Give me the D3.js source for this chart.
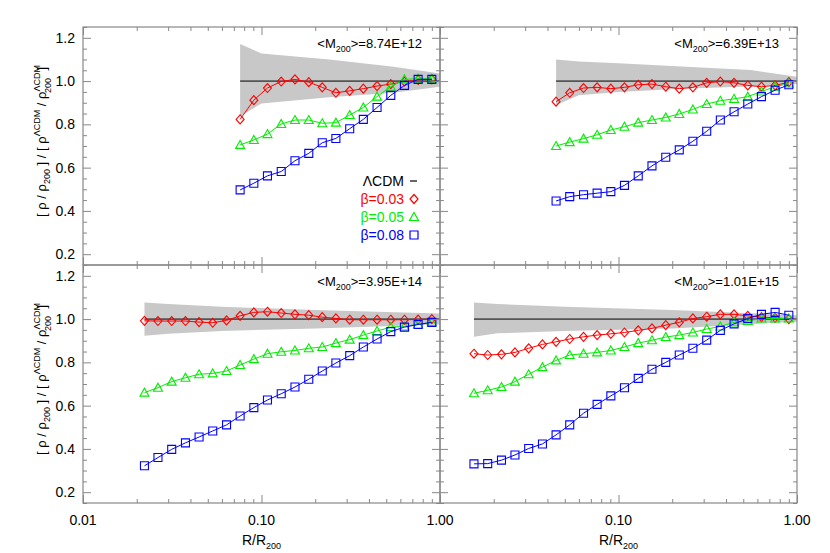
<!DOCTYPE html>
<html lang="en">
<head>
<meta charset="UTF-8">
<title>density ratio</title>
<style>
  body { margin: 0; background: #fff; }
  text { font-family: "Liberation Sans", Arial, sans-serif; }
</style>
</head>
<body>
<svg id="vis"></svg>
<script src="https://d3js.org/d3.v7.min.js"></script>
<script>
// R/R200 grid shared by all panels (each panel uses the last n points)
const radii = [0.0155, 0.0185, 0.0221, 0.0263, 0.0314, 0.0375, 0.0447, 0.0533, 0.0637, 0.0759,
  0.0906, 0.108, 0.129, 0.154, 0.184, 0.219, 0.261, 0.312, 0.372, 0.444, 0.530, 0.632, 0.754, 0.900]

const massLabels = ["8.74E+12", "6.39E+13", "3.95E+14", "1.01E+15"]

const beta03 = [
  [0.823, 0.912, 0.968, 0.998, 1.008, 0.995, 0.971, 0.946, 0.955, 0.965, 0.977, 0.986, 0.998, 1.005, 1.008],
  [0.905, 0.946, 0.968, 0.971, 0.965, 0.971, 0.983, 0.986, 0.974, 0.965, 0.971, 0.992, 0.998, 0.992, 0.980, 0.974, 0.980, 0.995],
  [0.992, 0.991, 0.991, 0.991, 0.986, 0.983, 0.994, 1.015, 1.031, 1.034, 1.028, 1.022, 1.018, 1.009, 1.003, 0.997, 0.997, 0.997, 0.997, 0.997, 0.998, 1.0],
  [0.840, 0.834, 0.837, 0.846, 0.865, 0.883, 0.895, 0.908, 0.918, 0.926, 0.932, 0.938, 0.948, 0.957, 0.972, 0.985, 1.003, 1.011, 1.022, 1.022, 1.015, 1.009, 1.006, 1.0]
]
const beta05 = [
  [0.705, 0.728, 0.755, 0.802, 0.820, 0.820, 0.805, 0.808, 0.843, 0.878, 0.928, 0.974, 1.008, 1.011, 1.011],
  [0.700, 0.718, 0.734, 0.752, 0.774, 0.789, 0.808, 0.820, 0.832, 0.848, 0.869, 0.894, 0.909, 0.918, 0.928, 0.952, 0.974, 0.989],
  [0.660, 0.683, 0.711, 0.729, 0.745, 0.749, 0.760, 0.788, 0.815, 0.840, 0.849, 0.855, 0.865, 0.871, 0.889, 0.905, 0.926, 0.945, 0.963, 0.966, 0.975, 0.985],
  [0.657, 0.671, 0.686, 0.711, 0.745, 0.778, 0.809, 0.834, 0.840, 0.846, 0.855, 0.871, 0.889, 0.902, 0.917, 0.926, 0.938, 0.954, 0.966, 0.985, 0.991, 1.003, 1.003, 1.003]
]
const beta08 = [
  [0.497, 0.528, 0.562, 0.582, 0.632, 0.666, 0.715, 0.735, 0.780, 0.823, 0.878, 0.934, 0.980, 1.008, 1.008],
  [0.446, 0.466, 0.475, 0.482, 0.489, 0.518, 0.562, 0.608, 0.648, 0.682, 0.722, 0.768, 0.820, 0.858, 0.894, 0.928, 0.958, 0.983],
  [0.322, 0.360, 0.398, 0.428, 0.455, 0.483, 0.511, 0.552, 0.591, 0.626, 0.655, 0.686, 0.722, 0.760, 0.797, 0.831, 0.871, 0.908, 0.942, 0.963, 0.975, 0.985],
  [0.331, 0.332, 0.348, 0.372, 0.402, 0.423, 0.465, 0.511, 0.565, 0.606, 0.645, 0.683, 0.726, 0.768, 0.800, 0.834, 0.865, 0.903, 0.948, 0.978, 1.003, 1.022, 1.031, 1.018]
]

// LCDM scatter band: [R, lower, upper]
const bands = [
  [[0.0759, 0.838, 1.171], [0.100, 0.897, 1.128], [0.240, 0.925, 1.100], [0.550, 0.946, 1.066], [1.0, 0.974, 1.035]],
  [[0.0447, 0.889, 1.100], [0.060, 0.935, 1.090], [0.100, 0.950, 1.082], [0.240, 0.966, 1.066], [0.550, 0.975, 1.051], [1.0, 0.986, 1.020]],
  [[0.0221, 0.923, 1.077], [0.030, 0.932, 1.070], [0.060, 0.945, 1.057], [0.200, 0.957, 1.042], [1.0, 0.975, 1.026]],
  [[0.0155, 0.918, 1.077], [0.021, 0.934, 1.070], [0.050, 0.945, 1.057], [0.200, 0.957, 1.042], [1.0, 0.988, 1.018]]
]

const yTicks = [0.2, 0.4, 0.6, 0.8, 1.0, 1.2]
const xTicks = [0.01, 0.1, 1]

const series = [
  { data: beta03, color: "#ff0000", shape: "diamond", label: "β=0.03" },
  { data: beta05, color: "#00ee00", shape: "triangle", label: "β=0.05" },
  { data: beta08, color: "#0000ff", shape: "square", label: "β=0.08" }
]

const W = 830, H = 553
const padLeft = 83, padTop = 27, pw = 357, ph = 238
const frameColor = "#888"

const svg = d3.select("#vis").attr("width", W).attr("height", H)

const minorLog = []
;[0.01, 0.1].forEach(d => { for (let k = 2; k <= 9; k++) minorLog.push(d * k) })
const minorY = d3.range(0.15, 1.251, 0.05).map(v => +v.toFixed(2)).filter(v => !yTicks.includes(v))

function markerPath(shape, x, y) {
  if (shape === "diamond") return `M${x},${y - 4.5}L${x + 4},${y}L${x},${y + 4.5}L${x - 4},${y}Z`
  if (shape === "triangle") return `M${x},${y - 4.5}L${x + 4.5},${y + 3.5}L${x - 4.5},${y + 3.5}Z`
  return `M${x - 4},${y - 4}h8v8h-8Z`
}

for (let p = 0; p < 4; p++) {
  const col = p % 2, row = Math.floor(p / 2)
  const x0 = padLeft + col * pw, y0 = padTop + row * ph
  const x = d3.scaleLog().domain([0.01, 1]).range([x0, x0 + pw])
  const y = d3.scaleLinear().domain([0.15, 1.25]).range([y0 + ph, y0])
  const g = svg.append("g")

  // band
  g.append("path").datum(bands[p])
    .attr("fill", "#c8c8c8")
    .attr("d", d3.area().x(d => x(d[0])).y0(d => y(d[1])).y1(d => y(d[2])))

  // LCDM reference line
  g.append("line")
    .attr("x1", x(bands[p][0][0])).attr("x2", x(1))
    .attr("y1", y(1)).attr("y2", y(1))
    .attr("stroke", "#555").attr("stroke-width", 1.6)

  // series
  series.forEach(s => {
    const vals = s.data[p]
    const rs = radii.slice(radii.length - vals.length)
    const pts = vals.map((v, i) => [rs[i], v])
    g.append("path").datum(pts)
      .attr("fill", "none").attr("stroke", s.color).attr("stroke-width", 1)
      .attr("d", d3.line().x(d => x(d[0])).y(d => y(d[1])))
    g.selectAll(null).data(pts).enter().append("path")
      .attr("d", d => markerPath(s.shape, x(d[0]), y(d[1])))
      .attr("fill", "none").attr("stroke", s.color).attr("stroke-width", 1.1)
  })

  // axes: ticks pointing inward on all sides
  const axes = [
    [d3.axisBottom(x).tickValues(xTicks), `translate(0,${y0 + ph})`, -8],
    [d3.axisBottom(x).tickValues(minorLog), `translate(0,${y0 + ph})`, -4],
    [d3.axisTop(x).tickValues(xTicks), `translate(0,${y0})`, -8],
    [d3.axisTop(x).tickValues(minorLog), `translate(0,${y0})`, -4],
    [d3.axisLeft(y).tickValues(yTicks), `translate(${x0},0)`, -8],
    [d3.axisLeft(y).tickValues(minorY), `translate(${x0},0)`, -4],
    [d3.axisRight(y).tickValues(yTicks), `translate(${x0 + pw},0)`, -8],
    [d3.axisRight(y).tickValues(minorY), `translate(${x0 + pw},0)`, -4]
  ]
  axes.forEach(([ax, tr, size]) => {
    const a = g.append("g").attr("transform", tr).call(ax.tickSize(size).tickFormat(""))
    a.select(".domain").remove()
    a.selectAll("line").attr("stroke", frameColor)
  })

  g.append("rect").attr("x", x0).attr("y", y0).attr("width", pw).attr("height", ph)
    .attr("fill", "none").attr("stroke", frameColor).attr("stroke-width", 1.2)

  // tick labels
  if (col === 0) {
    g.selectAll(null).data(yTicks).enter().append("text")
      .attr("x", x0 - 8).attr("y", d => y(d) + 5)
      .attr("text-anchor", "end").attr("font-size", 14).text(d => d.toFixed(1))
  }
  if (row === 1) {
    g.selectAll(null).data(col === 0 ? xTicks : xTicks.slice(1)).enter().append("text")
      .attr("x", d => x(d)).attr("y", y0 + ph + 22)
      .attr("text-anchor", "middle").attr("font-size", 14).text(d => d.toFixed(2))
    const xl = g.append("text").attr("x", x(0.1)).attr("y", y0 + ph + 42)
      .attr("text-anchor", "middle").attr("font-size", 14)
    xl.append("tspan").text("R/R")
    xl.append("tspan").attr("font-size", 9).attr("dy", 4).text("200")
  }
  if (col === 0) {
    const cy = y0 + ph / 2 - 5
    const yl = g.append("text").attr("transform", `translate(46,${cy}) rotate(-90)`)
      .attr("text-anchor", "middle").attr("font-size", 13)
    yl.append("tspan").text("[ ρ / ρ")
    yl.append("tspan").attr("font-size", 9).attr("dy", 4).text("200")
    yl.append("tspan").attr("dy", -4).text(" ] / [ ρ")
    yl.append("tspan").attr("font-size", 9).attr("dy", -6).text("ΛCDM")
    yl.append("tspan").attr("dy", 6).text(" / ρ")
    yl.append("tspan").attr("font-size", 9).attr("dy", -6).text("ΛCDM")
    yl.append("tspan").attr("font-size", 9).attr("dx", -28).attr("dy", 11).text("200")
    yl.append("tspan").attr("dy", -5).attr("dx", 4).text(" ]")
  }

  // mass label
  const ml = g.append("text").attr("x", x0 + pw - 18).attr("y", y0 + 21)
    .attr("text-anchor", "end").attr("font-size", 13)
  ml.append("tspan").text("<M")
  ml.append("tspan").attr("font-size", 9).attr("dy", 4).text("200")
  ml.append("tspan").attr("dy", -4).text(">=" + massLabels[p])
}

// legend in top-left panel
const legend = [{ label: "ΛCDM", color: "#000", shape: "dash" }].concat(series)
legend.forEach((s, i) => {
  const ly = 186 + i * 18
  svg.append("text").attr("x", 404).attr("y", ly).attr("text-anchor", "end")
    .attr("font-size", 14).attr("fill", s.color).text(s.label)
  if (s.shape === "dash") {
    svg.append("line").attr("x1", 410).attr("x2", 417).attr("y1", ly - 5).attr("y2", ly - 5)
      .attr("stroke", "#000").attr("stroke-width", 1.2)
  } else {
    svg.append("path").attr("d", markerPath(s.shape, 414, ly - 5))
      .attr("fill", "none").attr("stroke", s.color).attr("stroke-width", 1.2)
  }
})
</script>
</body>
</html>
